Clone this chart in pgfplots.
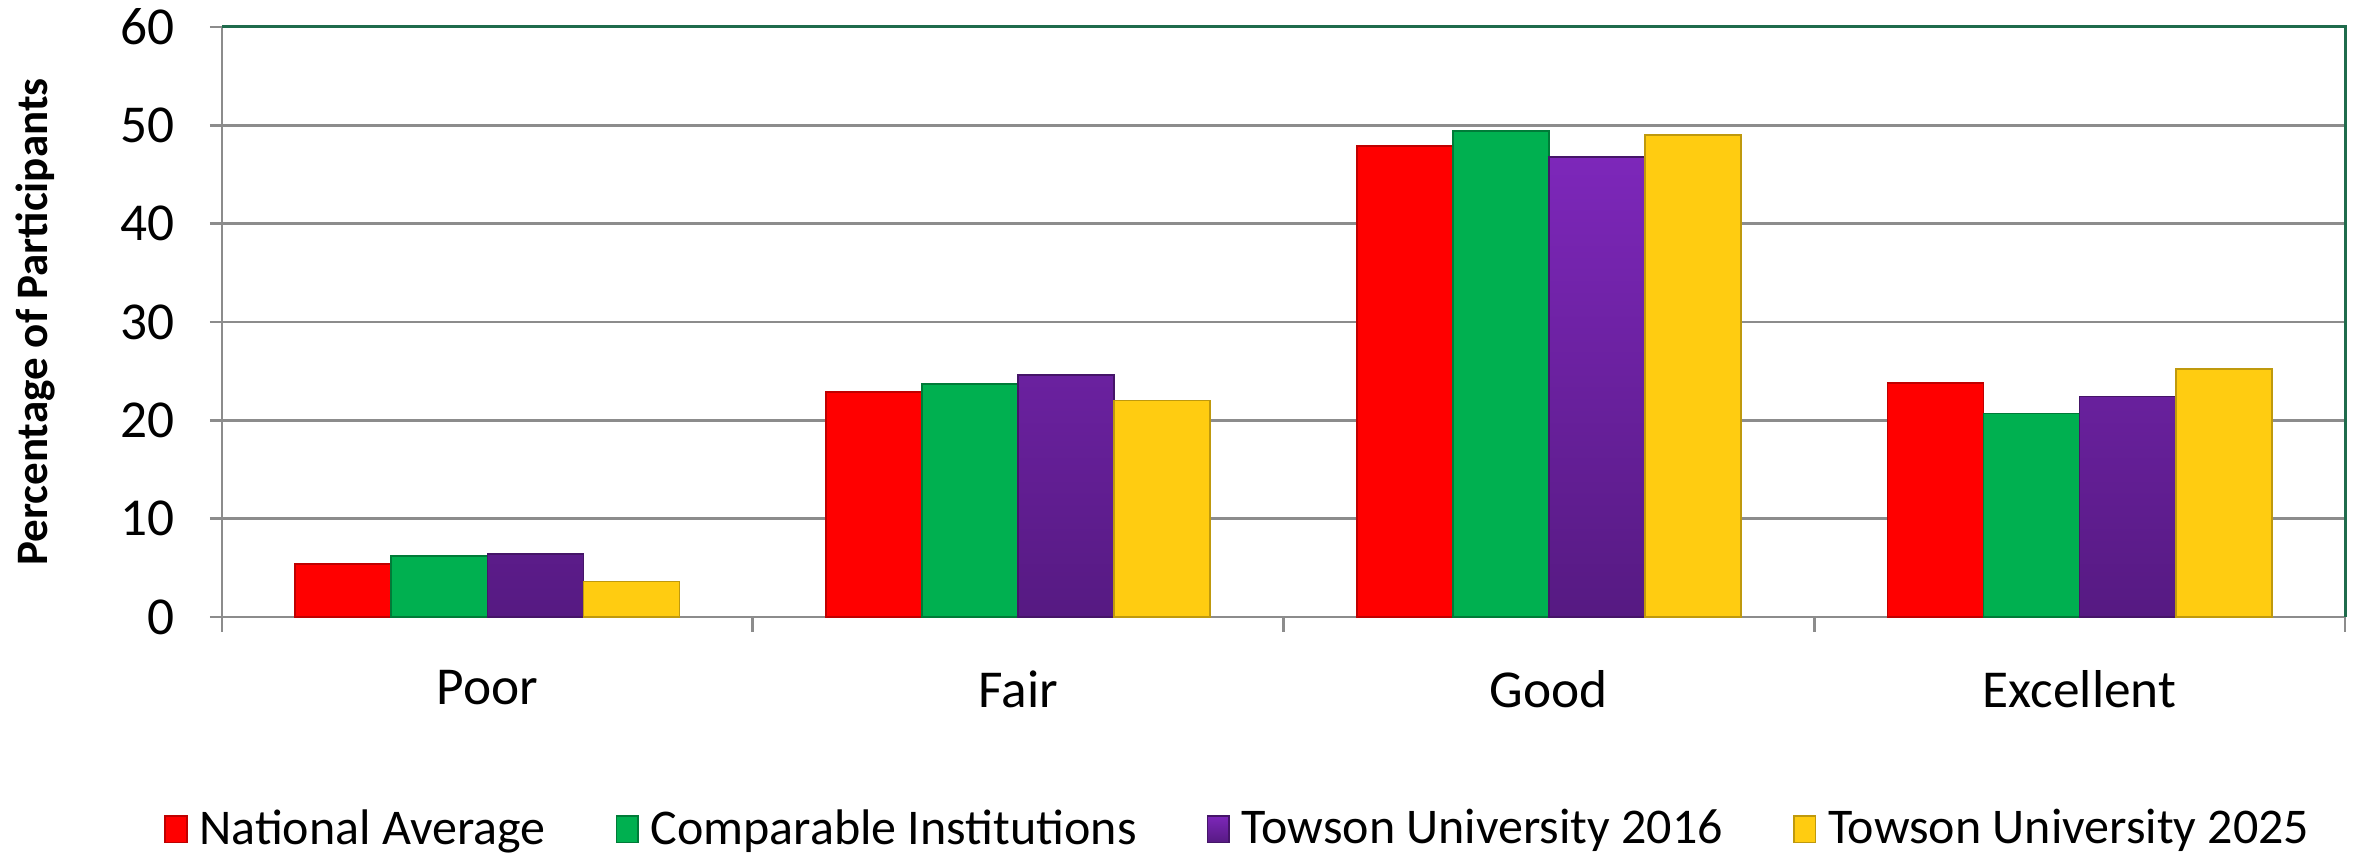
\documentclass[border=0pt]{standalone}
\usepackage{fontspec}
\setmainfont{Carlito}
\usepackage{pgfplots}
\pgfplotsset{compat=1.18}
\usetikzlibrary{calc}

\definecolor{cRed}{HTML}{FF0000}
\definecolor{cGreen}{HTML}{00B050}
\definecolor{cPurpTop}{HTML}{7D27BA}
\definecolor{cPurpBot}{HTML}{561A82}
\definecolor{cYellow}{HTML}{FFCC11}
\definecolor{gridgray}{HTML}{8C8C8C}
\definecolor{frame}{HTML}{1F6B4C}

\begin{document}
\begin{tikzpicture}
\begin{axis}[
    name=ax,
    scale only axis,
    width=637pt, height=177pt,
    ybar=0pt,
    bar width=0.181,
    xmin=-0.5, xmax=3.5,
    ymin=0, ymax=60,
    ytick={0,10,...,60},
    xtick={0,1,2,3},
    xticklabels={Poor,Fair,Good,Excellent},
    minor xtick={-0.5,0.5,1.5,2.5,3.5},
    major x tick style={draw=none},
    minor x tick style={draw=gridgray, line width=0.8pt},
    minor tick length=4.5pt,
    major tick length=3.6pt,
    tick align=outside,
    axis x line*=bottom,
    axis y line*=left,
    axis line style={draw=gridgray, line width=0.8pt, -},
    y tick style={draw=gridgray, line width=0.8pt},
    ymajorgrids,
    grid style={draw=gridgray, line width=0.8pt},
    /pgf/number format/assume math mode=true,
    tick label style={font=\fontsize{16}{19}\selectfont},
    yticklabel style={xshift=-7pt},
    xticklabel style={yshift=-9pt},
    ylabel={\textbf{Percentage of Participants}},
    ylabel style={font=\fontsize{13.5}{16}\selectfont, at={(axis description cs:-0.088,0.5)}, anchor=center},
    legend columns=4,
    legend style={draw=none, fill=none, at={(0.5,-0.36)}, anchor=center, xshift=-13pt,
        font=\fontsize{15}{18}\selectfont,
        /tikz/every odd column/.append style={column sep=1.5pt},
        /tikz/every even column/.append style={column sep=19pt}},
    legend image code/.code={\draw[#1] (0pt,-4pt) rectangle (6.5pt,4pt);},
    legend cell align=left,
    clip=false,
]
\addplot[fill=cRed, draw=cRed!75!black, line width=0.5pt] coordinates {(0,5.4) (1,22.9) (2,47.9) (3,23.8)};
\addplot[fill=cGreen, draw=cGreen!70!black, line width=0.5pt] coordinates {(0,6.2) (1,23.7) (2,49.4) (3,20.7)};
\addplot[top color=cPurpTop, bottom color=cPurpBot, draw=cPurpBot!80!black, line width=0.5pt] coordinates {(0,6.4) (1,24.6) (2,46.8) (3,22.4)};
\addplot[fill=cYellow, draw=cYellow!75!black, line width=0.5pt] coordinates {(0,3.6) (1,22.0) (2,49.0) (3,25.2)};
\legend{National Average, Comparable Institutions, Towson University 2016, Towson University 2025}
\draw[frame, line width=0.9pt] (rel axis cs:0,1) -- (rel axis cs:1,1) -- (rel axis cs:1,0);
\end{axis}
\pgfresetboundingbox
\path[use as bounding box] ($(ax.south west)+(-66.6pt,-71.1pt)$) rectangle ($(ax.north east)+(3.6pt,8.1pt)$);
\end{tikzpicture}
\end{document}
